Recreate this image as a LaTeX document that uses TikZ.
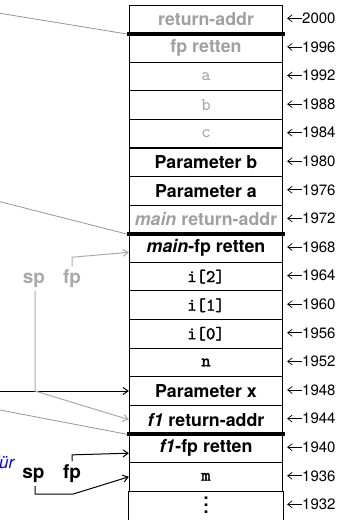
\documentclass[tikz,border=0pt]{standalone}
\usepackage{fontspec}
\setmainfont{TeX Gyre Heros}
\setmonofont{lmmono10-regular}[Extension=.otf, AutoFakeBold=1.6]
\usepackage{tikz}
\usetikzlibrary{arrows.meta}
\usepackage{xcolor}
\definecolor{oldgray}{RGB}{160,160,160}
\definecolor{linkgray}{RGB}{150,150,150}
\definecolor{reggray}{RGB}{170,170,170}
\definecolor{noteblue}{RGB}{0,0,255}
\tikzstyle{cell} = [draw, line width=0.9pt, minimum width=153.4pt, minimum height=28.6pt, inner sep=0pt, font=\fontsize{17.8}{20}\selectfont\bfseries]
\tikzstyle{oldcell} = [cell, text=oldgray]
\tikzstyle{varcell} = [cell, font=\fontsize{17.8}{20}\selectfont\ttfamily\bfseries]
\tikzstyle{oldvar} = [cell, text=oldgray, font=\fontsize{17.8}{20}\selectfont\ttfamily]
\tikzstyle{addr} = [anchor=west, inner sep=0pt, font=\fontsize{15}{17}\selectfont]
\tikzstyle{addrtip} = [-{Straight Barb[length=4.5pt,width=7pt]}, line width=0.7pt, shorten >=4pt]
\tikzstyle{ptr} = [-{Straight Barb[length=5pt,width=7pt]}, line width=1pt]
\tikzstyle{oldptr} = [ptr, reggray]
\tikzstyle{link} = [line width=0.8pt, linkgray]
\tikzstyle{fpsep} = [line width=4pt]
\tikzstyle{reg} = [anchor=base, inner sep=3pt, font=\fontsize{19}{22}\selectfont\bfseries]
\newcommand{\stackdots}{\vbox{\baselineskip=7pt\lineskiplimit=0pt\hbox{.}\hbox{.}\hbox{.}}}

\begin{document}
\begin{tikzpicture}[x=1pt, y=-1pt]
\useasboundingbox (0,0) rectangle (349,520);

% Stack cells
\node[oldcell] (retaddr) at (206,19.3) {return-addr};
\node[oldcell] (fpold) at (206,47.9) {fp retten};
\node[oldvar] (vara) at (206,76.5) {a};
\node[oldvar] (varb) at (206,105.1) {b};
\node[oldvar] (varc) at (206,133.7) {c};
\node[cell] (parb) at (206,162.2) {Parameter b};
\node[cell] (para) at (206,190.8) {Parameter a};
\node[oldcell] (mainret) at (206,219.4) {\textit{main} return-addr};
\node[cell] (mainfp) at (206,248.0) {\textit{main}-fp retten};
\node[varcell] (i2) at (206,276.6) {i[2]};
\node[varcell] (i1) at (206,305.2) {i[1]};
\node[varcell] (i0) at (206,333.8) {i[0]};
\node[varcell] (varn) at (206,362.4) {n};
\node[cell] (parx) at (206,391.0) {Parameter x};
\node[cell] (fret) at (206,419.6) {\textit{f1} return-addr};
\node[cell] (ffp) at (206,448.2) {\textit{f1}-fp retten};
\node[varcell] (varm) at (206,476.8) {m};
\node[cell, draw=none] (dots) at (206,505.3) {\stackdots};
\draw[line width=0.9pt] (dots.north west) -- ++(0,30) (dots.north east) -- ++(0,30);

% Frame borders
\draw[fpsep] ([xshift=-1.6pt]retaddr.south west) -- ([xshift=1.6pt]retaddr.south east);
\draw[fpsep] ([xshift=-1.6pt]mainret.south west) -- ([xshift=1.6pt]mainret.south east);
\draw[fpsep] ([xshift=-1.6pt]fret.south west) -- ([xshift=1.6pt]fret.south east);
\coordinate (cut1) at ([xshift=-1.6pt]retaddr.south west);
\coordinate (cut2) at ([xshift=-1.6pt]mainret.south west);
\coordinate (cut3) at ([xshift=-1.6pt]fret.south west);

% Addresses
\node[addr] (a2000) at (302,18.3) {2000};
\node[addr] (a1996) at (302,46.9) {1996};
\node[addr] (a1992) at (302,75.5) {1992};
\node[addr] (a1988) at (302,104.1) {1988};
\node[addr] (a1984) at (302,132.7) {1984};
\node[addr] (a1980) at (302,161.2) {1980};
\node[addr] (a1976) at (302,189.8) {1976};
\node[addr] (a1972) at (302,218.4) {1972};
\node[addr] (a1968) at (302,247.0) {1968};
\node[addr] (a1964) at (302,275.6) {1964};
\node[addr] (a1960) at (302,304.2) {1960};
\node[addr] (a1956) at (302,332.8) {1956};
\node[addr] (a1952) at (302,361.4) {1952};
\node[addr] (a1948) at (302,390.0) {1948};
\node[addr] (a1944) at (302,418.6) {1944};
\node[addr] (a1940) at (302,447.2) {1940};
\node[addr] (a1936) at (302,475.8) {1936};
\node[addr] (a1932) at (302,504.3) {1932};

\draw[addrtip] (a2000.west) -- (a2000.west -| retaddr.east);
\draw[addrtip] (a1996.west) -- (a1996.west -| fpold.east);
\draw[addrtip] (a1992.west) -- (a1992.west -| vara.east);
\draw[addrtip] (a1988.west) -- (a1988.west -| varb.east);
\draw[addrtip] (a1984.west) -- (a1984.west -| varc.east);
\draw[addrtip] (a1980.west) -- (a1980.west -| parb.east);
\draw[addrtip] (a1976.west) -- (a1976.west -| para.east);
\draw[addrtip] (a1972.west) -- (a1972.west -| mainret.east);
\draw[addrtip] (a1968.west) -- (a1968.west -| mainfp.east);
\draw[addrtip] (a1964.west) -- (a1964.west -| i2.east);
\draw[addrtip] (a1960.west) -- (a1960.west -| i1.east);
\draw[addrtip] (a1956.west) -- (a1956.west -| i0.east);
\draw[addrtip] (a1952.west) -- (a1952.west -| varn.east);
\draw[addrtip] (a1948.west) -- (a1948.west -| parx.east);
\draw[addrtip] (a1944.west) -- (a1944.west -| fret.east);
\draw[addrtip] (a1940.west) -- (a1940.west -| ffp.east);
\draw[addrtip] (a1936.west) -- (a1936.west -| varm.east);
\draw[addrtip] (a1932.west) -- (a1932.west -| dots.east);

% Registers before the call
\node[reg, text=reggray] (spA) at (34,283.3) {sp};
\node[reg, text=reggray] (fpA) at (72,283.3) {fp};
% Registers after the call
\node[reg] (spB) at (33.5,478.5) {sp};
\node[reg] (fpB) at (72,478.5) {fp};
\node[anchor=base east, inner sep=0pt, text=noteblue, font=\fontsize{17}{20}\selectfont\itshape] (note) at (14.5,468) {für};

% Links from outside
\coordinate (in1) at (0,13.3);
\coordinate (in2) at (0,201.7);
\coordinate (in3) at (0,410);
\coordinate (inx) at (0,391);
\draw[link] (in1) -- (cut1);
\draw[link] (in2) -- (cut2);
\draw[link] (in3) -- (cut3);
\draw[ptr] (inx) -- (parx.west);

% Register pointers
\draw[oldptr] (fpA.north) -- ([yshift=9pt]fpA.north) -- ([yshift=-4.3pt]mainfp.west);
\draw[oldptr] ([xshift=1pt]spA.south) -- ([xshift=1pt]spA.south |- parx.west) -- (fret.west);
\coordinate (spbend) at (73.3,494);
\draw[ptr] (fpB.north) -- ([yshift=6.6pt]fpB.north) -- ([yshift=-5pt]ffp.west);
\draw[ptr] ([xshift=1.5pt]spB.south) |- (spbend) -- (varm.west);
\end{tikzpicture}
\end{document}
